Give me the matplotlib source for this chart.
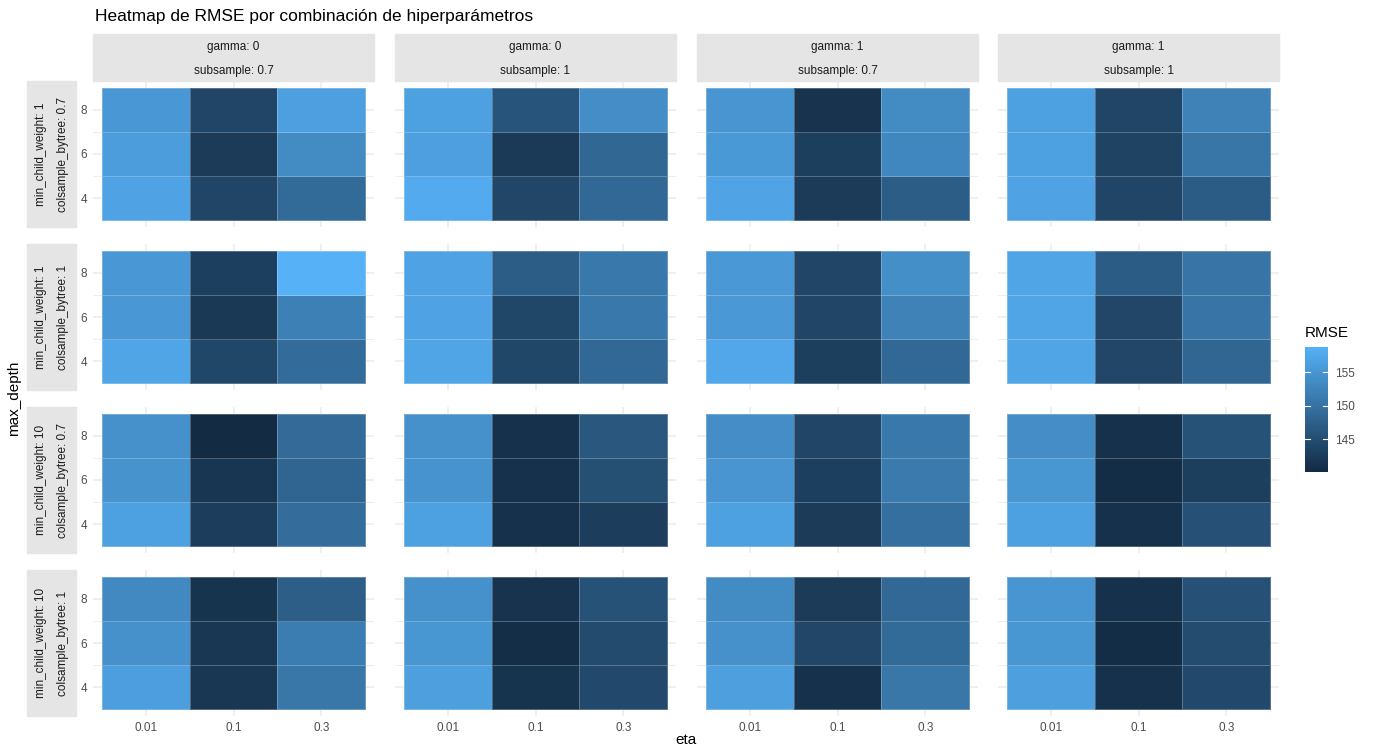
import numpy as np
import matplotlib
matplotlib.use('Agg')
import matplotlib.pyplot as plt
from matplotlib.colors import LinearSegmentedColormap, Normalize

plt.rcParams['font.family'] = ['Liberation Sans', 'DejaVu Sans']

# hyperparameter grid
eta = ['0.01', '0.1', '0.3']
max_depth = [4, 6, 8]
col_facets = [('0', '0.7'), ('0', '1'), ('1', '0.7'), ('1', '1')]   # (gamma, subsample)
row_facets = [('1', '0.7'), ('1', '1'), ('10', '0.7'), ('10', '1')]  # (min_child_weight, colsample_bytree)

# RMSE per row facet: [column facet][max_depth 4,6,8][eta 0.01,0.1,0.3]
rmse_mcw1_cs07 = [
    [[156.9, 143.8, 149.0], [155.9, 142.3, 153.4], [155.1, 143.7, 156.3]],
    [[157.8, 143.9, 148.7], [156.3, 142.2, 148.5], [156.5, 145.8, 153.8]],
    [[157.0, 142.3, 147.1], [155.5, 142.9, 153.0], [154.9, 141.3, 153.4]],
    [[156.7, 143.7, 146.9], [156.5, 143.5, 150.5], [156.5, 143.7, 152.2]],
]
rmse_mcw1_cs1 = [
    [[157.1, 144.0, 149.1], [155.1, 142.0, 151.9], [155.1, 143.0, 158.8]],
    [[157.1, 144.0, 148.6], [156.9, 144.0, 150.8], [156.9, 147.1, 150.8]],
    [[157.4, 142.9, 148.7], [155.3, 143.7, 152.2], [155.3, 143.8, 154.0]],
    [[157.1, 143.9, 148.4], [157.1, 143.9, 150.3], [157.1, 146.9, 150.3]],
]
rmse_mcw10_cs07 = [
    [[156.5, 142.7, 149.3], [154.5, 141.6, 148.2], [154.3, 140.1, 148.9]],
    [[156.5, 141.0, 142.6], [154.6, 141.0, 145.1], [154.2, 141.0, 146.2]],
    [[156.5, 142.4, 149.6], [154.9, 143.0, 151.1], [153.7, 143.7, 150.8]],
    [[156.5, 141.0, 145.3], [155.0, 140.4, 142.9], [153.7, 141.0, 145.6]],
]
rmse_mcw10_cs1 = [
    [[156.1, 141.8, 150.7], [154.3, 141.8, 151.5], [153.2, 141.4, 147.2]],
    [[156.2, 141.4, 144.3], [155.0, 140.6, 144.5], [154.3, 141.3, 145.6]],
    [[156.2, 141.0, 150.7], [154.3, 143.9, 149.0], [153.4, 142.4, 148.7]],
    [[156.2, 141.0, 144.3], [155.0, 140.4, 144.7], [154.9, 141.0, 145.3]],
]
rmse_rows = [rmse_mcw1_cs07, rmse_mcw1_cs1, rmse_mcw10_cs07, rmse_mcw10_cs1]

# default ggplot continuous fill gradient
cmap = LinearSegmentedColormap.from_list('gg_blue', ['#132B43', '#56B1F7'])

allv = np.array(rmse_rows)
norm = Normalize(vmin=allv.min(), vmax=allv.max())

W, H = 1373, 751
fig = plt.figure(figsize=(W / 100, H / 100), dpi=100)


def fx(px):
    return px / W


def fy(py):
    return 1 - py / H


col_x = [(93, 374), (395, 676), (697, 978), (998, 1279)]
row_y = [(81, 227), (244, 390), (407, 553), (570, 716)]
strip_top = 34
strip_left = (27, 76)

xe = np.array([0.5, 1.5, 2.5, 3.5])
ye = np.array([3, 5, 7, 9])
grid_col = '#EBEBEB'

for r, (y0, y1) in enumerate(row_y):
    for c, (x0, x1) in enumerate(col_x):
        ax = fig.add_axes([fx(x0), fy(y1), fx(x1 - x0), (y1 - y0) / H])
        for gx in [1, 2, 3]:
            ax.axvline(gx, color=grid_col, lw=1.1, zorder=0)
        for gy in [4, 6, 8]:
            ax.axhline(gy, color=grid_col, lw=1.1, zorder=0)
        for gy in [5, 7]:
            ax.axhline(gy, color=grid_col, lw=0.6, zorder=0)
        vals = np.array(rmse_rows[r][c])
        ax.pcolormesh(xe, ye, vals, cmap=cmap, norm=norm, edgecolors=(1, 1, 1, 0.25),
                      linewidth=0.6, zorder=1)
        ax.set_xlim(0.4, 3.6)
        ax.set_ylim(2.7, 9.3)
        for s in ax.spines.values():
            s.set_visible(False)
        ax.tick_params(length=0, labelsize=8.5, labelcolor='#4D4D4D', pad=4)
        ax.set_xticks([1, 2, 3])
        ax.set_yticks(max_depth)
        ax.set_xticklabels(eta if r == 3 else [])
        ax.set_yticklabels(max_depth if c == 0 else [])
        ax.set_facecolor('white')

# column strips
for c, (x0, x1) in enumerate(col_x):
    g, ss = col_facets[c]
    fig.patches.append(plt.Rectangle((fx(x0), fy(row_y[0][0])), fx(x1 - x0), (row_y[0][0] - strip_top) / H,
                                     transform=fig.transFigure, color='#E5E5E5', zorder=0))
    xm = fx((x0 + x1) / 2)
    fig.text(xm, fy(47), f'gamma: {g}', ha='center', va='center', fontsize=8.5, color='#1A1A1A')
    fig.text(xm, fy(71), f'subsample: {ss}', ha='center', va='center', fontsize=8.5, color='#1A1A1A')

# row strips
for r, (y0, y1) in enumerate(row_y):
    mcw, cs = row_facets[r]
    fig.patches.append(plt.Rectangle((fx(strip_left[0]), fy(y1)), fx(strip_left[1] - strip_left[0]), (y1 - y0) / H,
                                     transform=fig.transFigure, color='#E5E5E5', zorder=0))
    ym = fy((y0 + y1) / 2)
    fig.text(fx(41), ym, f'min_child_weight: {mcw}', ha='center', va='center', rotation=90,
             fontsize=8.5, color='#1A1A1A')
    fig.text(fx(63), ym, f'colsample_bytree: {cs}', ha='center', va='center', rotation=90,
             fontsize=8.5, color='#1A1A1A')

# titles
fig.text(fx(95), fy(17), 'Heatmap de RMSE por combinación de hiperparámetros', ha='left', va='center',
         fontsize=12.5, color='black')
fig.text(fx(686), fy(740), 'eta', ha='center', va='center', fontsize=11, color='black')
fig.text(fx(14), fy(398), 'max_depth', ha='center', va='center', rotation=90, fontsize=11, color='black')

# colour legend
cb_x0, cb_x1, cb_y0, cb_y1 = 1305, 1328, 347, 472
cax = fig.add_axes([fx(cb_x0), fy(cb_y1), fx(cb_x1 - cb_x0), (cb_y1 - cb_y0) / H])
grad = np.linspace(norm.vmin, norm.vmax, 300).reshape(-1, 1)
cax.imshow(grad, cmap=cmap, norm=norm, aspect='auto', origin='lower',
           extent=[0, 1, norm.vmin, norm.vmax])
cb_ticks = [145, 150, 155]
for t in cb_ticks:
    cax.plot([0, 0.2], [t, t], color='white', lw=0.8)
    cax.plot([0.8, 1], [t, t], color='white', lw=0.8)
cax.set_xlim(0, 1)
cax.set_ylim(norm.vmin, norm.vmax)
cax.set_xticks([])
cax.yaxis.tick_right()
cax.set_yticks(cb_ticks)
cax.tick_params(length=0, labelsize=8.5, labelcolor='#4D4D4D', pad=5)
for s in cax.spines.values():
    s.set_visible(False)
fig.text(fx(1305), fy(333), 'RMSE', ha='left', va='center', fontsize=11, color='black')

fig.savefig('out.png', dpi=100, facecolor='white')
